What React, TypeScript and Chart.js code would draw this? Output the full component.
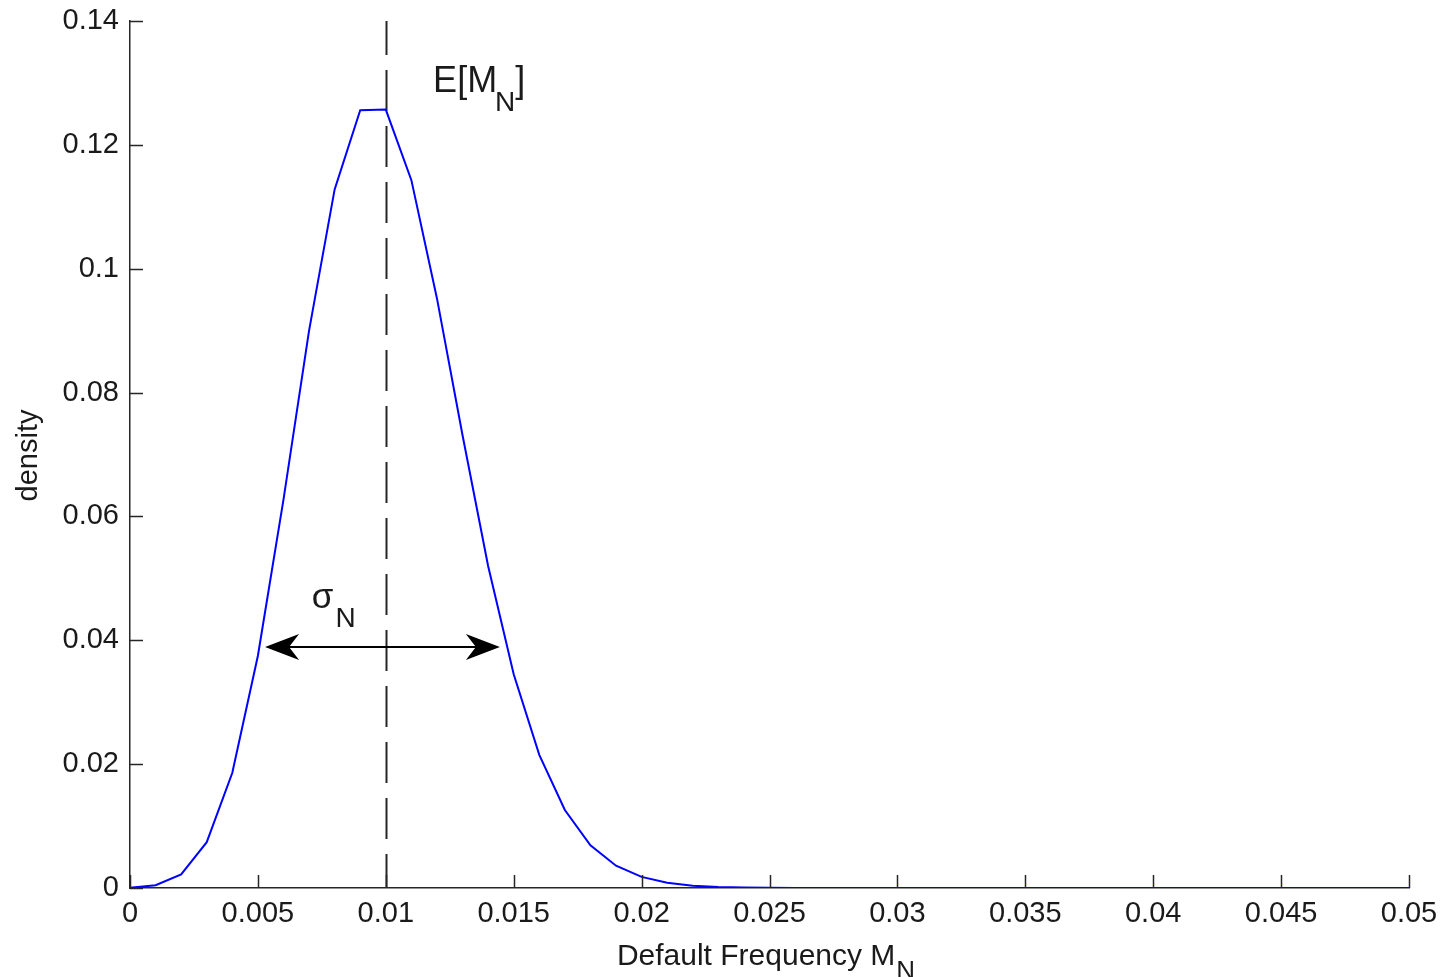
import { useEffect, useRef } from "react";
import { Chart, registerables } from "chart.js";

Chart.register(...registerables);

const frequency = [
  0, 0.001, 0.002, 0.003, 0.004, 0.005, 0.006, 0.007, 0.008, 0.009,
  0.01, 0.011, 0.012, 0.013, 0.014, 0.015, 0.016, 0.017, 0.018, 0.019,
  0.02, 0.021, 0.022, 0.023, 0.024, 0.025, 0.026, 0.027, 0.028, 0.029,
  0.03, 0.031, 0.032, 0.033, 0.034, 0.035, 0.036, 0.037, 0.038, 0.039,
  0.04, 0.041, 0.042, 0.043, 0.044, 0.045, 0.046, 0.047, 0.048, 0.049,
  0.05,
];

const density = [
  0.00004, 0.00044, 0.0022, 0.0074, 0.0186, 0.0375, 0.0627, 0.09, 0.1128, 0.1256,
  0.1257, 0.1143, 0.0952, 0.0731, 0.052, 0.0345, 0.0215, 0.0126, 0.0069, 0.0036,
  0.0018, 0.00085, 0.00038, 0.00016, 0.00007, 0.00003, 0, 0, 0, 0,
  0, 0, 0, 0, 0, 0, 0, 0, 0, 0,
  0, 0, 0, 0, 0, 0, 0, 0, 0, 0,
  0,
];

const xTickValues = [0, 0.005, 0.01, 0.015, 0.02, 0.025, 0.03, 0.035, 0.04, 0.045, 0.05];
const xTickLabels = ["0", "0.005", "0.01", "0.015", "0.02", "0.025", "0.03", "0.035", "0.04", "0.045", "0.05"];
const yTickValues = [0, 0.02, 0.04, 0.06, 0.08, 0.1, 0.12, 0.14];
const yTickLabels = ["0", "0.02", "0.04", "0.06", "0.08", "0.1", "0.12", "0.14"];

const meanValue = 0.01;
const sigmaArrowX = [0.00528, 0.01446];
const sigmaArrowY = 0.0389;
const meanLabelAt = { x: 0.01185, y: 0.1285 };
const sigmaLabelAt = { x: 0.00711, y: 0.0452 };

const FONT = "'Liberation Sans', Arial, Helvetica, sans-serif";
const AXIS_COLOR = "#262626";
const TEXT_COLOR = "#1a1a1a";

const annotationPlugin = {
  id: "matlabAnnotations",
  beforeDatasetsDraw(chart: any) {
    const { ctx, chartArea, scales } = chart;
    const xs = scales.x;
    const px = Math.round(xs.getPixelForValue(meanValue)) + 0.5;
    ctx.save();
    ctx.strokeStyle = AXIS_COLOR;
    ctx.lineWidth = 2;
    ctx.setLineDash([41, 15]);
    ctx.lineDashOffset = 7;
    ctx.beginPath();
    ctx.moveTo(px, chartArea.top);
    ctx.lineTo(px, chartArea.bottom);
    ctx.stroke();
    ctx.restore();
  },
  afterDraw(chart: any) {
    const { ctx, chartArea, scales } = chart;
    const xs = scales.x;
    const ys = scales.y;
    ctx.save();
    // inward tick marks
    ctx.strokeStyle = AXIS_COLOR;
    ctx.lineWidth = 1.5;
    ctx.beginPath();
    for (const v of xTickValues) {
      const p = Math.round(xs.getPixelForValue(v)) + 0.5;
      ctx.moveTo(p, chartArea.bottom);
      ctx.lineTo(p, chartArea.bottom - 13);
    }
    for (const v of yTickValues) {
      const p = Math.round(ys.getPixelForValue(v)) + 0.5;
      ctx.moveTo(chartArea.left, p);
      ctx.lineTo(chartArea.left + 13, p);
    }
    ctx.stroke();

    // sigma arrow
    const ay = ys.getPixelForValue(sigmaArrowY);
    const ax1 = xs.getPixelForValue(sigmaArrowX[0]);
    const ax2 = xs.getPixelForValue(sigmaArrowX[1]);
    ctx.strokeStyle = "#000";
    ctx.fillStyle = "#000";
    ctx.lineWidth = 2;
    ctx.beginPath();
    ctx.moveTo(ax1 + 20, ay);
    ctx.lineTo(ax2 - 20, ay);
    ctx.stroke();
    const head = (tip: number, dir: number) => {
      ctx.beginPath();
      ctx.moveTo(tip, ay);
      ctx.lineTo(tip + dir * 34, ay - 13);
      ctx.lineTo(tip + dir * 24, ay);
      ctx.lineTo(tip + dir * 34, ay + 13);
      ctx.closePath();
      ctx.fill();
    };
    head(ax1, 1);
    head(ax2, -1);

    ctx.fillStyle = TEXT_COLOR;
    ctx.textBaseline = "alphabetic";
    ctx.textAlign = "left";

    // E[M_N]
    let tx = xs.getPixelForValue(meanLabelAt.x);
    const ty = ys.getPixelForValue(meanLabelAt.y);
    ctx.font = `36px ${FONT}`;
    ctx.fillText("E[M", tx, ty);
    tx += ctx.measureText("E[M").width - 2;
    ctx.font = `28px ${FONT}`;
    ctx.fillText("N", tx, ty + 19);
    tx += ctx.measureText("N").width;
    ctx.font = `36px ${FONT}`;
    ctx.fillText("]", tx, ty);

    // sigma_N
    let sx = xs.getPixelForValue(sigmaLabelAt.x);
    const sy = ys.getPixelForValue(sigmaLabelAt.y);
    ctx.font = `35px ${FONT}`;
    ctx.fillText("σ", sx, sy);
    sx += ctx.measureText("σ").width + 2;
    ctx.font = `28px ${FONT}`;
    ctx.fillText("N", sx, sy + 19);

    // x axis title
    ctx.font = `30px ${FONT}`;
    const main = "Default Frequency M";
    const mainW = ctx.measureText(main).width;
    ctx.font = `26px ${FONT}`;
    const subW = ctx.measureText("N").width;
    const cx = (chartArea.left + chartArea.right) / 2;
    const startX = cx - (mainW + subW) / 2 - 4;
    ctx.font = `30px ${FONT}`;
    ctx.fillText(main, startX, chartArea.bottom + 77);
    ctx.font = `26px ${FONT}`;
    ctx.fillText("N", startX + mainW + 1, chartArea.bottom + 91);

    // y axis title
    ctx.save();
    ctx.translate(37, (chartArea.top + chartArea.bottom) / 2 + 1);
    ctx.rotate(-Math.PI / 2);
    ctx.textAlign = "center";
    ctx.font = `29px ${FONT}`;
    ctx.fillText("density", 0, 0);
    ctx.restore();

    ctx.restore();
  },
};

export default function App() {
  const canvasRef = useRef<HTMLCanvasElement | null>(null);

  useEffect(() => {
    const canvas = canvasRef.current;
    if (!canvas) return;
    const chart = new Chart(canvas, {
      type: "line",
      data: {
        datasets: [
          {
            label: "density",
            data: frequency.map((f, i) => ({ x: f, y: density[i] })),
            borderColor: "#0000ff",
            borderWidth: 2,
            pointRadius: 0,
            tension: 0,
            fill: false,
          },
        ],
      },
      options: {
        animation: false,
        responsive: false,
        devicePixelRatio: 1,
        layout: { padding: { top: 21, right: 36, left: 0, bottom: 0 } },
        plugins: {
          legend: { display: false },
          tooltip: { enabled: false },
        },
        scales: {
          x: {
            type: "linear",
            min: 0,
            max: 0.05,
            afterBuildTicks: (scale: any) => {
              scale.ticks = xTickValues.map((v) => ({ value: v }));
            },
            afterFit: (scale: any) => {
              scale.height = 89;
              scale.paddingLeft = 0;
              scale.paddingRight = 0;
              scale.paddingTop = 0;
              scale.paddingBottom = 0;
            },
            ticks: {
              autoSkip: false,
              maxRotation: 0,
              padding: 9,
              color: TEXT_COLOR,
              font: { family: FONT, size: 29 },
              callback: (_v: any, i: number) => xTickLabels[i],
            },
            grid: { display: true, drawOnChartArea: false, drawTicks: false },
            border: { display: true, color: AXIS_COLOR, width: 1.5 },
          },
          y: {
            type: "linear",
            min: 0,
            max: 0.14,
            afterBuildTicks: (scale: any) => {
              scale.ticks = yTickValues.map((v) => ({ value: v }));
            },
            afterFit: (scale: any) => {
              scale.width = 130;
              scale.paddingLeft = 0;
              scale.paddingRight = 0;
              scale.paddingTop = 0;
              scale.paddingBottom = 0;
            },
            ticks: {
              autoSkip: false,
              padding: 11,
              color: TEXT_COLOR,
              font: { family: FONT, size: 29 },
              callback: (_v: any, i: number) => yTickLabels[i],
            },
            grid: { display: true, drawOnChartArea: false, drawTicks: false },
            border: { display: true, color: AXIS_COLOR, width: 1.5 },
          },
        },
      },
      plugins: [annotationPlugin],
    });
    return () => chart.destroy();
  }, []);

  return (
    <div style={{ position: "fixed", left: 0, top: 0, width: 1445, height: 977, background: "#fff" }}>
      <canvas ref={canvasRef} width={1445} height={977} style={{ width: 1445, height: 977, display: "block" }} />
    </div>
  );
}
